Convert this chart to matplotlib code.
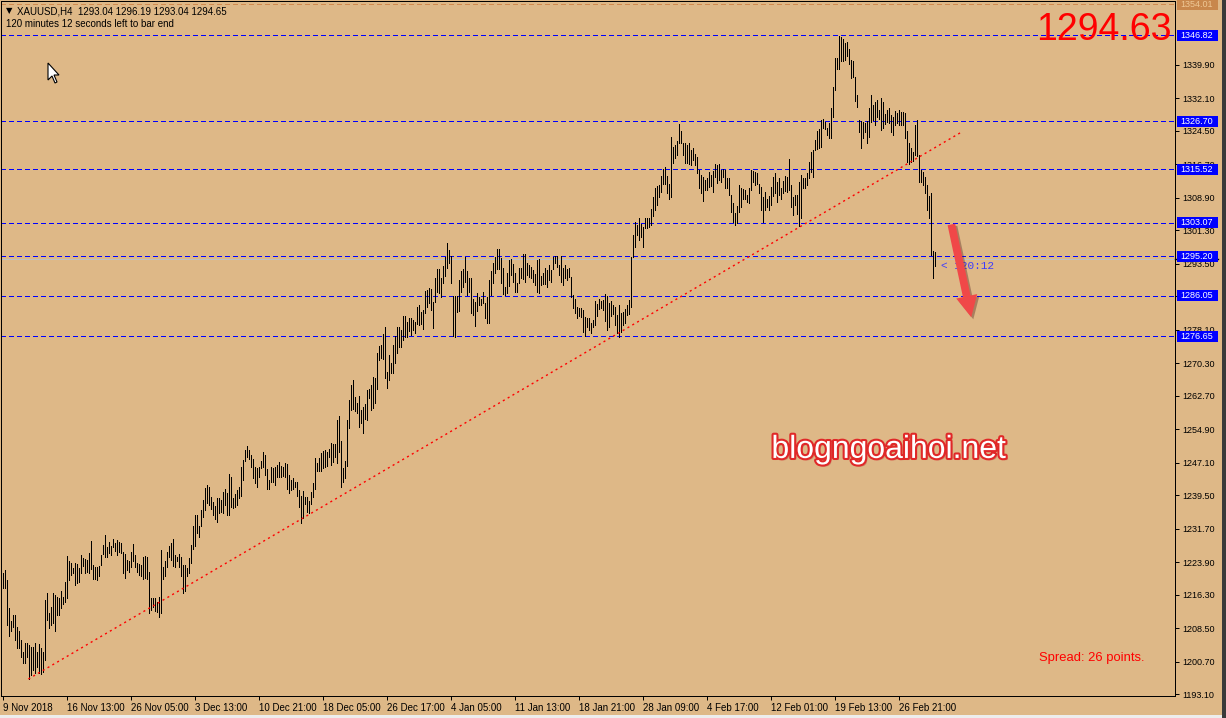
import matplotlib
matplotlib.use('Agg')
import matplotlib.pyplot as plt
import matplotlib.transforms as mtransforms
import matplotlib.patheffects as pe
from matplotlib.patches import Rectangle, Polygon

plt.rcParams['font.family'] = ['Liberation Sans', 'DejaVu Sans']

# XAUUSD H4 bars (high / low per bar)
highs = [
    1221.5, 1222.0, 1219.8, 1213.3, 1210.3, 1211.6, 1211.6, 1208.9, 1207.9, 1205.8,
    1203.0, 1205.2, 1205.2, 1204.6, 1204.2, 1204.2, 1205.2, 1203.1, 1204.9, 1204.0,
    1203.1, 1215.1, 1216.7, 1212.2, 1213.6, 1216.7, 1216.3, 1215.9, 1215.5, 1217.1,
    1215.9, 1219.2, 1225.4, 1224.1, 1223.7, 1222.5, 1223.7, 1223.5, 1222.5, 1225.6,
    1224.8, 1224.6, 1224.4, 1226.1, 1228.9, 1223.3, 1222.7, 1222.7, 1223.0, 1225.6,
    1227.9, 1230.3, 1227.5, 1228.7, 1227.8, 1229.3, 1228.5, 1229.1, 1228.6, 1228.5,
    1226.4, 1225.8,
    1224.4, 1224.1, 1226.4, 1228.2, 1225.6, 1223.7, 1223.5, 1223.3, 1225.2, 1225.4,
    1225.2, 1221.7, 1215.5, 1215.5, 1215.5, 1214.7, 1215.9, 1226.8, 1222.9, 1224.1,
    1226.2, 1227.6, 1228.5, 1229.3, 1225.6, 1225.2, 1225.8, 1225.2, 1223.3, 1223.3,
    1222.5, 1224.8, 1227.9, 1232.4, 1234.9, 1234.9, 1232.4, 1236.0, 1238.4, 1241.2,
    1241.9, 1241.5, 1239.2, 1238.0, 1237.0, 1239.0, 1238.8, 1238.4, 1240.4, 1240.9,
    1240.0, 1244.5, 1243.9, 1239.0, 1239.8, 1240.8, 1241.4, 1246.2, 1247.8,
    1250.1, 1251.1, 1250.1, 1248.9, 1248.1, 1246.2, 1245.8, 1246.2, 1247.6, 1249.7,
    1248.9, 1245.6, 1243.2, 1246.2, 1246.0, 1246.2, 1246.6, 1247.2, 1246.4, 1246.2,
    1247.0, 1246.8, 1244.2, 1243.1, 1243.5, 1242.7, 1242.7, 1240.8, 1239.4, 1240.6,
    1239.2, 1239.2, 1238.2, 1240.4, 1242.3, 1248.3, 1247.0, 1248.3, 1249.3, 1249.9,
    1250.1, 1249.7, 1250.3, 1251.6, 1251.5, 1251.5, 1257.1, 1258.0, 1252.1, 1245.8,
    1247.5, 1257.1, 1261.7, 1265.2, 1266.4, 1262.5, 1261.1, 1262.7, 1259.4, 1260.2,
    1260.9, 1264.1, 1264.2, 1265.2, 1267.2, 1266.8, 1272.6, 1274.3, 1274.6, 1277.1,
    1278.8, 1268.3, 1272.2, 1270.4, 1274.6, 1276.7, 1278.8, 1278.7, 1278.1, 1281.3,
    1281.3, 1280.0, 1280.8, 1280.8, 1280.4, 1280.0, 1283.5, 1283.9, 1282.3, 1282.7,
    1287.2, 1287.4, 1287.8, 1287.5, 1284.7, 1290.1, 1292.3, 1292.3, 1290.1, 1293.0,
    1295.0, 1298.3, 1296.6, 1295.4, 1286.0, 1286.0, 1286.0, 1289.7, 1291.9, 1292.2,
    1295.0, 1291.7, 1290.1, 1290.1, 1285.4, 1284.7, 1286.6, 1285.8, 1285.2, 1287.0,
    1284.4, 1285.8, 1289.7, 1291.9, 1293.6, 1295.0, 1296.9, 1296.9, 1294.8, 1292.4,
    1288.0, 1291.4, 1294.4, 1294.5, 1293.4, 1291.3, 1289.0, 1292.4, 1292.4, 1295.8,
    1295.8, 1293.6, 1293.2, 1292.7, 1292.0, 1291.1, 1294.4, 1294.5, 1290.6, 1291.3,
    1292.4, 1292.0, 1293.2, 1292.0, 1295.0, 1295.3, 1295.2, 1293.2, 1295.2, 1292.4,
    1293.2, 1292.2, 1292.4, 1290.5, 1286.2, 1285.4, 1283.5, 1283.3, 1283.1, 1282.7,
    1281.0, 1280.8, 1280.8, 1279.8, 1280.4, 1284.9, 1284.1, 1285.2, 1284.9, 1285.1,
    1286.4, 1286.0, 1284.3, 1284.9, 1283.9, 1283.5, 1281.6, 1283.9, 1282.1, 1282.3,
    1282.9, 1283.9, 1285.0, 1295.1, 1300.2, 1303.3, 1302.5, 1304.1, 1302.8, 1302.1,
    1304.1, 1304.1, 1304.1, 1306.2, 1309.0, 1311.1, 1311.6, 1311.9, 1314.0, 1315.5,
    1316.0, 1314.0, 1312.2, 1323.1, 1320.8, 1321.2, 1322.0, 1326.1, 1324.5, 1321.6,
    1321.6, 1321.2, 1321.6, 1320.0, 1320.4, 1319.1, 1318.5, 1315.4, 1314.2, 1313.8,
    1313.0, 1313.4, 1315.0, 1314.2, 1315.2, 1316.8, 1316.5, 1316.8, 1315.4, 1315.5,
    1315.3, 1313.4, 1313.6, 1309.5, 1307.6, 1305.3, 1307.0, 1311.9, 1311.2, 1310.9,
    1310.7, 1309.5, 1311.1, 1315.3, 1315.2, 1315.0, 1314.6, 1312.0, 1311.5, 1309.1,
    1310.3, 1308.7, 1309.4, 1311.3, 1313.8, 1314.6, 1312.6, 1313.6, 1311.2, 1312.8,
    1314.0, 1313.8, 1317.9, 1311.9, 1309.1, 1309.5, 1309.5, 1312.6, 1314.2, 1313.6,
    1313.4, 1314.6, 1317.3, 1319.5, 1320.0, 1322.4, 1324.4, 1324.8, 1327.0, 1327.2,
    1326.6, 1325.1, 1326.2, 1329.7, 1334.8, 1341.4, 1341.4, 1346.6, 1346.4, 1346.0,
    1344.9, 1345.1, 1343.6, 1341.0, 1340.8, 1337.1, 1332.8, 1327.0, 1326.8, 1326.6,
    1326.2, 1326.8, 1329.7, 1332.8, 1330.5, 1331.1, 1331.7, 1329.3, 1332.2, 1331.1,
    1328.3, 1329.3, 1329.7, 1328.2, 1327.8, 1329.0, 1328.6, 1329.3, 1328.9, 1328.8,
    1328.6, 1324.4, 1321.6, 1320.4, 1319.6, 1325.8, 1327.0, 1318.9, 1315.3, 1315.0,
    1313.8, 1311.9, 1309.4, 1309.9, 1296.5, 1296.19,
]
lows = [
    1218.0, 1218.0, 1209.3, 1206.7, 1208.0, 1208.9, 1205.9, 1204.0, 1203.9, 1201.9,
    1200.4, 1200.5, 1201.9, 1196.6, 1197.6, 1198.8, 1198.0, 1199.6, 1198.0, 1197.8,
    1198.4, 1201.1, 1210.5, 1208.5, 1209.3, 1209.7, 1208.0, 1211.6, 1211.6, 1213.2,
    1214.2, 1214.7, 1215.7, 1219.8, 1221.0, 1221.3, 1218.6, 1219.0, 1219.2, 1221.5,
    1223.0, 1221.3, 1221.7, 1221.3, 1222.3, 1219.9, 1219.9, 1219.8, 1220.7, 1223.3,
    1225.8, 1225.2, 1225.2, 1226.1, 1225.6, 1227.4, 1226.6, 1225.6, 1226.4, 1226.0,
    1221.5, 1220.3,
    1222.1, 1221.7, 1222.9, 1224.1, 1222.7, 1221.7, 1221.0, 1220.6, 1219.9, 1220.2,
    1219.9, 1212.0, 1212.8, 1213.6, 1212.6, 1212.4, 1211.2, 1212.0, 1219.9, 1220.6,
    1222.9, 1225.1, 1224.5, 1223.1, 1222.9, 1224.1, 1222.9, 1220.7, 1216.8, 1217.1,
    1220.6, 1221.3, 1223.7, 1226.9, 1227.7, 1230.7, 1229.9, 1232.4, 1234.5, 1236.1,
    1237.7, 1237.3, 1236.3, 1234.9, 1233.9, 1233.4, 1235.3, 1235.7, 1235.3, 1237.3,
    1234.9, 1234.9, 1236.7, 1236.5, 1236.9, 1237.3, 1239.0, 1239.4, 1243.2,
    1247.6, 1248.5, 1248.1, 1246.1, 1243.5, 1242.5, 1241.5, 1243.9, 1245.8, 1246.2,
    1244.2, 1241.1, 1241.0, 1242.7, 1242.6, 1241.9, 1243.9, 1243.9, 1243.9, 1244.0,
    1243.9, 1241.1, 1240.1, 1240.8, 1241.1, 1241.5, 1239.4, 1236.9, 1233.0, 1234.2,
    1237.5, 1235.7, 1235.3, 1237.5, 1239.2, 1241.0, 1245.1, 1245.3, 1245.3, 1245.8,
    1246.2, 1246.4, 1248.5, 1246.6, 1247.4, 1248.5, 1247.0, 1249.7, 1241.5, 1242.7,
    1243.5, 1246.4, 1255.3, 1259.4, 1259.6, 1259.2, 1258.6, 1255.4, 1256.3, 1254.0,
    1257.2, 1257.1, 1262.1, 1259.4, 1259.8, 1261.0, 1264.2, 1271.1, 1271.5, 1271.2,
    1266.8, 1264.5, 1266.4, 1268.1, 1268.1, 1270.4, 1272.6, 1274.2, 1274.0, 1275.7,
    1276.5, 1276.5, 1277.9, 1276.9, 1278.1, 1277.3, 1279.5, 1279.2, 1279.5, 1278.2,
    1282.0, 1283.5, 1284.4, 1282.7, 1278.5, 1284.7, 1286.8, 1286.6, 1285.8, 1289.0,
    1290.7, 1292.4, 1293.6, 1289.1, 1276.7, 1276.5, 1282.3, 1282.6, 1287.0, 1288.0,
    1289.3, 1286.2, 1287.0, 1282.0, 1281.6, 1279.0, 1282.6, 1283.9, 1283.9, 1284.3,
    1280.8, 1279.8, 1279.8, 1286.2, 1289.0, 1291.4, 1292.2, 1292.2, 1289.0, 1286.5,
    1286.2, 1286.6, 1288.3, 1290.9, 1289.3, 1287.0, 1287.0, 1289.0, 1290.1, 1289.9,
    1289.3, 1290.9, 1290.5, 1290.1, 1289.3, 1288.5, 1286.8, 1286.6, 1288.5, 1288.8,
    1288.8, 1288.0, 1289.7, 1289.3, 1292.2, 1293.6, 1292.7, 1290.9, 1289.3, 1288.5,
    1290.1, 1289.7, 1290.5, 1285.8, 1283.1, 1282.1, 1280.8, 1281.3, 1281.2, 1277.7,
    1276.7, 1278.8, 1278.1, 1277.4, 1278.8, 1279.2, 1281.3, 1282.9, 1283.1, 1282.7,
    1280.2, 1278.1, 1278.8, 1281.3, 1281.9, 1279.2, 1277.3, 1276.5, 1277.7, 1279.2,
    1279.6, 1281.6, 1281.9, 1283.5, 1295.1, 1297.3, 1300.2, 1299.0, 1299.8, 1297.5,
    1301.8, 1301.8, 1302.0, 1302.5, 1304.6, 1306.0, 1307.2, 1309.0, 1310.3, 1312.2,
    1312.2, 1310.1, 1308.7, 1309.1, 1317.1, 1318.1, 1318.8, 1321.7, 1321.6, 1318.8,
    1316.9, 1316.9, 1316.8, 1316.5, 1317.7, 1316.5, 1314.6, 1311.1, 1310.1, 1308.2,
    1310.7, 1310.7, 1311.3, 1311.6, 1310.3, 1313.8, 1312.4, 1313.0, 1312.6, 1313.8,
    1311.1, 1311.1, 1309.5, 1305.6, 1303.3, 1302.5, 1303.1, 1305.6, 1306.8, 1308.7,
    1308.6, 1308.0, 1307.6, 1310.7, 1312.6, 1311.9, 1312.0, 1310.1, 1306.0, 1303.3,
    1306.0, 1306.8, 1306.0, 1307.2, 1309.2, 1309.9, 1308.0, 1309.5, 1308.7, 1309.9,
    1310.5, 1310.3, 1310.7, 1306.8, 1304.9, 1307.2, 1305.2, 1302.2, 1304.1, 1311.1,
    1311.1, 1311.9, 1313.4, 1315.0, 1313.8, 1320.0, 1320.3, 1320.4, 1320.8, 1325.1,
    1324.9, 1323.5, 1322.7, 1322.7, 1327.8, 1334.0, 1338.8, 1338.8, 1340.8, 1340.8,
    1341.0, 1342.0, 1340.0, 1336.7, 1337.1, 1331.4, 1330.1, 1324.1, 1320.4, 1322.9,
    1324.1, 1321.6, 1323.1, 1326.6, 1327.0, 1325.8, 1327.8, 1327.2, 1324.6, 1325.1,
    1326.0, 1326.5, 1326.2, 1324.3, 1323.4, 1325.8, 1326.2, 1325.8, 1325.8, 1325.8,
    1322.7, 1317.3, 1316.7, 1317.2, 1317.4, 1318.9, 1318.7, 1312.6, 1312.6, 1311.9,
    1309.9, 1306.0, 1304.1, 1295.5, 1290.1, 1293.04,
]

time_labels = ['9 Nov 2018', '16 Nov 13:00', '26 Nov 05:00', '3 Dec 13:00',
               '10 Dec 21:00', '18 Dec 05:00', '26 Dec 17:00', '4 Jan 05:00',
               '11 Jan 13:00', '18 Jan 21:00', '28 Jan 09:00', '4 Feb 17:00',
               '12 Feb 01:00', '19 Feb 13:00', '26 Feb 21:00']
bars_per_label = 32

price_ticks = [1193.10, 1200.70, 1208.50, 1216.30, 1223.90, 1231.70, 1239.50,
               1247.10, 1254.90, 1262.70, 1270.30, 1278.10, 1285.90, 1293.50,
               1301.30, 1308.90, 1316.70, 1324.50, 1332.10, 1339.90]

levels = [1346.82, 1326.70, 1315.52, 1303.07, 1295.20, 1286.05, 1276.65]
top_level = 1354.01
bid = 1294.65
big_price = '1294.63'

# trend line anchors (bar index, price)
trend_bar = [12.7, 480]
trend_price = [1196.7, 1324.4]
arrow_start = (473.9, 1303.3)
arrow_end = (484.4, 1280.4)

bg = '#DEB887'
W, H = 1226, 718
px = 72 / 100  # one pixel in points

fig = plt.figure(figsize=(W / 100, H / 100), dpi=100, facecolor=bg)
ax = fig.add_axes([1 / W, 22 / H, 1174 / W, 695 / H])
ax.set_facecolor(bg)
ax.set_xlim(-1, 586)
ax.set_ylim(1192.74, 1354.75)

for s in ax.spines.values():
    s.set_color('black')
    s.set_linewidth(px)

# bid line and levels
ax.axhline(bid, color='#C0C0C0', lw=px, antialiased=False, zorder=1)
for p in levels:
    ax.axhline(p, color='#0000FF', lw=px, dashes=(5, 3), antialiased=False, zorder=2)
ax.axhline(top_level, color='#D08A50', lw=px, dashes=(5, 3), antialiased=False, zorder=2)

# bars
x = list(range(len(highs)))
ax.vlines(x, lows, highs, colors='black', lw=px, antialiaseds=False, zorder=3)

# trend line
ax.plot(trend_bar, trend_price, color='#FF0000', lw=1.0, dashes=(1.5, 2.5), zorder=3)

# arrow
ax.annotate('', xy=arrow_end, xytext=arrow_start,
            arrowprops=dict(arrowstyle='simple,head_length=1.1,head_width=1.1,tail_width=0.4',
                            mutation_scale=14, color='#F04848', lw=0,
                            path_effects=[pe.SimplePatchShadow(offset=(1.5, -1.5), alpha=0.35),
                                          pe.Normal()]),
            zorder=6)

ax.text(469, 1293.0, '< 120:12', color='#3C3CFF', fontsize=8,
        family=['Liberation Mono', 'DejaVu Sans Mono'], va='center', ha='left', zorder=5)

# x axis
ticks = [i * bars_per_label for i in range(len(time_labels))]
ax.set_xticks(ticks)
ax.set_xticklabels(time_labels, ha='left')
ax.tick_params(axis='x', direction='out', length=3, width=px, pad=2, labelsize=7,
               colors='black')
for lbl in ax.get_xticklabels():
    lbl.set_x(lbl.get_position()[0])

# y axis
ax.yaxis.tick_right()
ax.set_yticks(price_ticks)
ax.set_yticklabels(['%.2f' % p for p in price_ticks])
ax.tick_params(axis='y', direction='out', length=3, width=px, pad=2, labelsize=6.5,
               colors='black')

# level labels on the price scale
bt = mtransforms.blended_transform_factory(ax.transAxes, ax.transData)
box_h = 11 / 4.29
for p in levels:
    ax.add_patch(Rectangle((1.0017, p - box_h / 2), 0.0349, box_h, transform=bt,
                           fc='#0000FF', ec='none', clip_on=False, zorder=8))
    ax.text(1.0043, p, '%.2f' % p, transform=bt, color='white', fontsize=6.5,
            va='center', ha='left', clip_on=False, zorder=9)
ax.add_patch(Rectangle((1.0017, top_level - box_h / 2), 0.0349, box_h, transform=bt,
                       fc='#C8874C', ec='none', clip_on=False, zorder=8))
ax.text(1.0043, top_level, '%.2f' % top_level, transform=bt, color='#EEC795',
        fontsize=6.5, va='center', ha='left', clip_on=False, zorder=9)
# bid marker on the scale
ax.plot([1.0, 1.037], [bid, bid], transform=bt, color='black', lw=1.0,
        clip_on=False, zorder=7)

# header texts
ax.text(0.0043, 0.9856, '\u25bc', transform=ax.transAxes, fontsize=6,
        family='DejaVu Sans', va='center', ha='left')
ax.text(0.0136, 0.9856, 'XAUUSD,H4  1293.04 1296.19 1293.04 1294.65',
        transform=ax.transAxes, fontsize=7, va='center', ha='left')
ax.text(0.0043, 0.967, '120 minutes 12 seconds left to bar end',
        transform=ax.transAxes, fontsize=7, va='center', ha='left')

ax.text(0.9974, 0.9439, big_price, transform=ax.transAxes, color='#FF0000',
        fontsize=27, va='baseline', ha='right')
ax.text(0.9744, 0.0547, 'Spread: 26 points.', transform=ax.transAxes, color='#FF0000',
        fontsize=9.4, va='center', ha='right')

ax.text(443, 1250.1, 'blogngoaihoi.net', color='white', fontsize=23,
        va='center', ha='center', zorder=6,
        path_effects=[pe.withSimplePatchShadow(offset=(1.5, -1.5), shadow_rgbFace='#B04040', alpha=0.4),
                      pe.withStroke(linewidth=3, foreground='#E02828')])

# mouse cursor
cur = [(0, 0), (0, 17), (4, 13), (7, 20), (9, 19), (6, 12), (11, 12)]
ox, oy = 48, H - 63
ax.add_patch(Polygon([(ox + a, oy - b) for a, b in cur], closed=True,
                     transform=mtransforms.IdentityTransform(),
                     fc='white', ec='black', lw=0.8, zorder=10, clip_on=False))

# window edges
fig.patches.append(Rectangle((1222 / W, 0), 4 / W, 1, transform=fig.transFigure,
                             fc='#3A3A3A', ec='none'))
fig.patches.append(Rectangle((0, 0), 1222 / W, 3 / H, transform=fig.transFigure,
                             fc='#EDEDED', ec='none'))

fig.savefig('out.png', dpi=100, facecolor=bg)
